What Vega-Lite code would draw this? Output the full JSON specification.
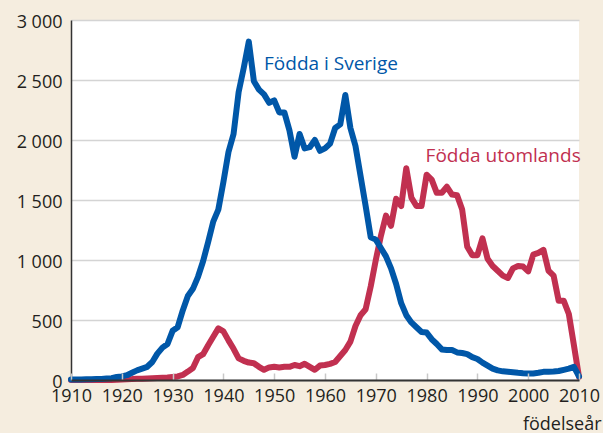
{
  "$schema": "https://vega.github.io/schema/vega-lite/v6.json",
  "autosize": {"type": "none"},
  "padding": {"left": 71, "top": 20, "right": 24, "bottom": 53},
  "width": 508,
  "height": 360,
  "background": "#f5eddf",
  "config": {"view": {"stroke": null, "fill": "white"}},
  "datasets": {
    "sverige": [
      {"year":1910,"value":5},{"year":1911,"value":5},{"year":1912,"value":5},{"year":1913,"value":6},{"year":1914,"value":7},
      {"year":1915,"value":8},{"year":1916,"value":9},{"year":1917,"value":12},{"year":1918,"value":15},{"year":1919,"value":25},
      {"year":1920,"value":30},{"year":1921,"value":40},{"year":1922,"value":60},{"year":1923,"value":80},{"year":1924,"value":95},
      {"year":1925,"value":110},{"year":1926,"value":150},{"year":1927,"value":220},{"year":1928,"value":270},{"year":1929,"value":300},
      {"year":1930,"value":410},{"year":1931,"value":440},{"year":1932,"value":580},{"year":1933,"value":700},{"year":1934,"value":760},
      {"year":1935,"value":860},{"year":1936,"value":990},{"year":1937,"value":1150},{"year":1938,"value":1320},{"year":1939,"value":1420},
      {"year":1940,"value":1650},{"year":1941,"value":1900},{"year":1942,"value":2050},{"year":1943,"value":2400},{"year":1944,"value":2600},
      {"year":1945,"value":2820},{"year":1946,"value":2490},{"year":1947,"value":2420},{"year":1948,"value":2380},{"year":1949,"value":2310},
      {"year":1950,"value":2330},{"year":1951,"value":2230},{"year":1952,"value":2230},{"year":1953,"value":2080},{"year":1954,"value":1860},
      {"year":1955,"value":2050},{"year":1956,"value":1930},{"year":1957,"value":1940},{"year":1958,"value":2000},{"year":1959,"value":1910},
      {"year":1960,"value":1930},{"year":1961,"value":1970},{"year":1962,"value":2100},{"year":1963,"value":2130},{"year":1964,"value":2375},
      {"year":1965,"value":2100},{"year":1966,"value":1950},{"year":1967,"value":1700},{"year":1968,"value":1450},{"year":1969,"value":1190},
      {"year":1970,"value":1170},{"year":1971,"value":1100},{"year":1972,"value":1030},{"year":1973,"value":930},{"year":1974,"value":800},
      {"year":1975,"value":640},{"year":1976,"value":540},{"year":1977,"value":480},{"year":1978,"value":440},{"year":1979,"value":400},
      {"year":1980,"value":395},{"year":1981,"value":340},{"year":1982,"value":300},{"year":1983,"value":255},{"year":1984,"value":250},
      {"year":1985,"value":250},{"year":1986,"value":230},{"year":1987,"value":225},{"year":1988,"value":215},{"year":1989,"value":190},
      {"year":1990,"value":175},{"year":1991,"value":145},{"year":1992,"value":120},{"year":1993,"value":95},{"year":1994,"value":80},
      {"year":1995,"value":72},{"year":1996,"value":68},{"year":1997,"value":64},{"year":1998,"value":60},{"year":1999,"value":57},
      {"year":2000,"value":55},{"year":2001,"value":55},{"year":2002,"value":60},{"year":2003,"value":68},{"year":2004,"value":68},
      {"year":2005,"value":70},{"year":2006,"value":75},{"year":2007,"value":85},{"year":2008,"value":95},{"year":2009,"value":110},
      {"year":2010,"value":30}
    ],
    "utomlands": [
      {"year":1910,"value":0},{"year":1911,"value":0},{"year":1912,"value":0},{"year":1913,"value":0},{"year":1914,"value":0},
      {"year":1915,"value":0},{"year":1916,"value":0},{"year":1917,"value":0},{"year":1918,"value":0},{"year":1919,"value":2},
      {"year":1920,"value":5},{"year":1921,"value":7},{"year":1922,"value":8},{"year":1923,"value":10},{"year":1924,"value":10},
      {"year":1925,"value":12},{"year":1926,"value":14},{"year":1927,"value":16},{"year":1928,"value":18},{"year":1929,"value":20},
      {"year":1930,"value":25},{"year":1931,"value":30},{"year":1932,"value":42},{"year":1933,"value":70},{"year":1934,"value":100},
      {"year":1935,"value":190},{"year":1936,"value":215},{"year":1937,"value":290},{"year":1938,"value":360},{"year":1939,"value":430},
      {"year":1940,"value":405},{"year":1941,"value":330},{"year":1942,"value":260},{"year":1943,"value":180},{"year":1944,"value":160},
      {"year":1945,"value":145},{"year":1946,"value":140},{"year":1947,"value":110},{"year":1948,"value":85},{"year":1949,"value":105},
      {"year":1950,"value":110},{"year":1951,"value":105},{"year":1952,"value":110},{"year":1953,"value":110},{"year":1954,"value":125},
      {"year":1955,"value":115},{"year":1956,"value":135},{"year":1957,"value":110},{"year":1958,"value":85},{"year":1959,"value":120},
      {"year":1960,"value":125},{"year":1961,"value":135},{"year":1962,"value":150},{"year":1963,"value":200},{"year":1964,"value":250},
      {"year":1965,"value":320},{"year":1966,"value":450},{"year":1967,"value":540},{"year":1968,"value":590},{"year":1969,"value":780},
      {"year":1970,"value":1000},{"year":1971,"value":1200},{"year":1972,"value":1370},{"year":1973,"value":1285},{"year":1974,"value":1510},
      {"year":1975,"value":1450},{"year":1976,"value":1765},{"year":1977,"value":1520},{"year":1978,"value":1450},{"year":1979,"value":1450},
      {"year":1980,"value":1710},{"year":1981,"value":1670},{"year":1982,"value":1560},{"year":1983,"value":1560},{"year":1984,"value":1610},
      {"year":1985,"value":1545},{"year":1986,"value":1540},{"year":1987,"value":1420},{"year":1988,"value":1110},{"year":1989,"value":1040},
      {"year":1990,"value":1040},{"year":1991,"value":1180},{"year":1992,"value":1010},{"year":1993,"value":950},{"year":1994,"value":910},
      {"year":1995,"value":870},{"year":1996,"value":850},{"year":1997,"value":930},{"year":1998,"value":950},{"year":1999,"value":945},
      {"year":2000,"value":905},{"year":2001,"value":1045},{"year":2002,"value":1060},{"year":2003,"value":1085},{"year":2004,"value":910},
      {"year":2005,"value":870},{"year":2006,"value":660},{"year":2007,"value":660},{"year":2008,"value":550},{"year":2009,"value":290},
      {"year":2010,"value":25}
    ],
    "labels": [
      {"label": "Födda i Sverige", "year": 1948.0, "value": 2583, "series": "s"},
      {"label": "Födda utomlands", "year": 1979.8, "value": 1814, "series": "u"}
    ]
  },
  "layer": [
    {
      "data": {"name": "utomlands"},
      "mark": {"type": "line", "color": "#c13050", "strokeWidth": 6, "strokeJoin": "round", "strokeCap": "round"},
      "encoding": {
        "x": {"field": "year", "type": "quantitative", "scale": {"domain": [1910, 2010], "nice": false, "zero": false},
          "axis": {
            "values": [1910,1920,1930,1940,1950,1960,1970,1980,1990,2000,2010],
            "format": "d", "grid": false, "zindex": 1,
            "tickSize": -7, "tickColor": "#c8c8c8", "tickWidth": 1.5,
            "domainColor": "#333333", "domainWidth": 2,
            "labelFont": "Open Sans", "labelFontSize": 18, "labelColor": "#231f20",
            "labelPadding": 14, "labelFlush": false, "labelOverlap": false,
            "title": "födelseår", "titleFont": "Open Sans", "titleFontSize": 18, "titleFontWeight": "normal",
            "titleColor": "#231f20", "titleAlign": "right", "titleAnchor": null, "titleX": 530, "titleY": 49, "titleBaseline": "alphabetic"
          }
        },
        "y": {"field": "value", "type": "quantitative", "scale": {"domain": [0, 3000], "nice": false},
          "axis": {
            "values": [0,500,1000,1500,2000,2500,3000],
            "labelExpr": "replace(format(datum.value, ','), ',', ' ')",
            "grid": true, "gridColor": "#d4d4d4", "gridWidth": 1.5,
            "ticks": false, "domainColor": "#333333", "domainWidth": 1.5,
            "labelFont": "Open Sans", "labelFontSize": 18, "labelColor": "#231f20",
            "labelPadding": 9, "labelOffset": 2, "labelOverlap": false, "title": null,
            "encode": {"labels": {"update": {"dy": {"signal": "datum.value === 0 ? -4 : 0"}}}}
          }
        }
      }
    },
    {
      "data": {"name": "sverige"},
      "mark": {"type": "line", "color": "#0057a8", "strokeWidth": 6, "strokeJoin": "round", "strokeCap": "round"},
      "encoding": {
        "x": {"field": "year", "type": "quantitative"},
        "y": {"field": "value", "type": "quantitative"}
      }
    },
    {
      "data": {"name": "labels"},
      "mark": {"type": "text", "align": "left", "baseline": "alphabetic", "font": "Open Sans", "fontSize": 19},
      "encoding": {
        "x": {"field": "year", "type": "quantitative"},
        "y": {"field": "value", "type": "quantitative"},
        "text": {"field": "label"},
        "color": {"field": "series", "type": "nominal", "scale": {"domain": ["s", "u"], "range": ["#0057a8", "#c13050"]}, "legend": null}
      }
    }
  ]
}
